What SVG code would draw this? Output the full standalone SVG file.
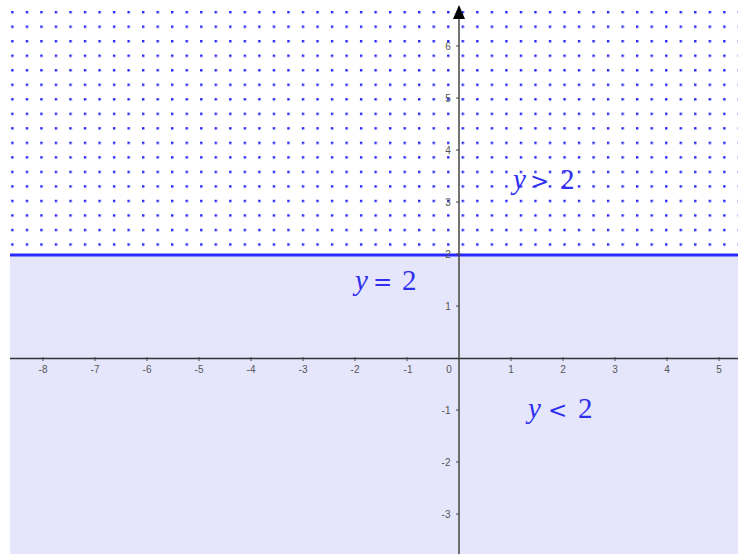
<svg xmlns="http://www.w3.org/2000/svg" width="738" height="554" viewBox="0 0 738 554">
<style>
.tick{stroke:#444;stroke-width:1}
.tl{font-family:"Liberation Sans",Arial,sans-serif;font-size:10px;fill:#555;text-anchor:middle}
.eq{font-family:"Liberation Serif","DejaVu Serif",serif;font-size:29px;fill:#2f2ff0}
.eq .v{font-style:italic}
.eq .op{font-family:"DejaVu Sans",sans-serif;font-size:23px}
</style>
<defs>
<pattern id="dots" patternUnits="userSpaceOnUse" x="11.2" y="11" width="14.53" height="14.52">
<rect x="0" y="0" width="2.4" height="2.4" fill="#2626f5"/>
</pattern>
</defs>
<rect x="0" y="0" width="738" height="554" fill="#ffffff"/>
<g id="region-above">
<rect x="10" y="0" width="728" height="253" fill="url(#dots)"/>
</g>
<g id="region-below">
<rect x="10" y="255" width="728" height="299" fill="#e5e5fc"/>
</g>
<g id="boundary">
<line x1="10" y1="255" x2="738" y2="255" stroke="#2a2aff" stroke-width="3"/>
</g>
<g id="axes">
<line x1="10" y1="358.5" x2="738" y2="358.5" stroke="#333" stroke-width="1.5"/>
<line x1="459" y1="554" x2="459" y2="15" stroke="#444" stroke-width="1.5"/>
<polygon points="459,5 453,19 465,19" fill="#000"/>
<g id="x-ticks">
<line class="tick" x1="43" y1="357" x2="43" y2="361"/>
<line class="tick" x1="95" y1="357" x2="95" y2="361"/>
<line class="tick" x1="147" y1="357" x2="147" y2="361"/>
<line class="tick" x1="199" y1="357" x2="199" y2="361"/>
<line class="tick" x1="251" y1="357" x2="251" y2="361"/>
<line class="tick" x1="303" y1="357" x2="303" y2="361"/>
<line class="tick" x1="355" y1="357" x2="355" y2="361"/>
<line class="tick" x1="407" y1="357" x2="407" y2="361"/>
<line class="tick" x1="511" y1="357" x2="511" y2="361"/>
<line class="tick" x1="563" y1="357" x2="563" y2="361"/>
<line class="tick" x1="615" y1="357" x2="615" y2="361"/>
<line class="tick" x1="667" y1="357" x2="667" y2="361"/>
<line class="tick" x1="719" y1="357" x2="719" y2="361"/>
</g>
<g id="x-labels">
<text class="tl" x="43" y="373">-8</text>
<text class="tl" x="95" y="373">-7</text>
<text class="tl" x="147" y="373">-6</text>
<text class="tl" x="199" y="373">-5</text>
<text class="tl" x="251" y="373">-4</text>
<text class="tl" x="303" y="373">-3</text>
<text class="tl" x="355" y="373">-2</text>
<text class="tl" x="408" y="373">-1</text>
<text class="tl" x="449" y="373">0</text>
<text class="tl" x="511" y="373">1</text>
<text class="tl" x="563" y="373">2</text>
<text class="tl" x="615" y="373">3</text>
<text class="tl" x="667" y="373">4</text>
<text class="tl" x="719" y="373">5</text>
</g>
<g id="y-ticks">
<line class="tick" x1="456" y1="46" x2="459" y2="46"/>
<line class="tick" x1="456" y1="98" x2="459" y2="98"/>
<line class="tick" x1="456" y1="150" x2="459" y2="150"/>
<line class="tick" x1="456" y1="202" x2="459" y2="202"/>
<line class="tick" x1="456" y1="254" x2="459" y2="254"/>
<line class="tick" x1="456" y1="306" x2="459" y2="306"/>
<line class="tick" x1="456" y1="410" x2="459" y2="410"/>
<line class="tick" x1="456" y1="462" x2="459" y2="462"/>
<line class="tick" x1="456" y1="514" x2="459" y2="514"/>
</g>
<g id="y-labels">
<text class="tl" x="448" y="50">6</text>
<text class="tl" x="448" y="102">5</text>
<text class="tl" x="448" y="154">4</text>
<text class="tl" x="448" y="206">3</text>
<text class="tl" x="448" y="258">2</text>
<text class="tl" x="448" y="310">1</text>
<text class="tl" x="446" y="414">-1</text>
<text class="tl" x="446" y="466">-2</text>
<text class="tl" x="446" y="518">-3</text>
</g>
</g>
<g id="label-gt">
<text class="eq" y="189"><tspan class="v" x="513">y</tspan><tspan class="op" x="530">&gt;</tspan><tspan x="560">2</tspan></text>
</g>
<g id="label-eq">
<text class="eq" y="290"><tspan class="v" x="355">y</tspan><tspan class="op" x="373">=</tspan><tspan x="402">2</tspan></text>
</g>
<g id="label-lt">
<text class="eq" y="418"><tspan class="v" x="528">y</tspan><tspan class="op" x="548">&lt;</tspan><tspan x="578">2</tspan></text>
</g>
</svg>
